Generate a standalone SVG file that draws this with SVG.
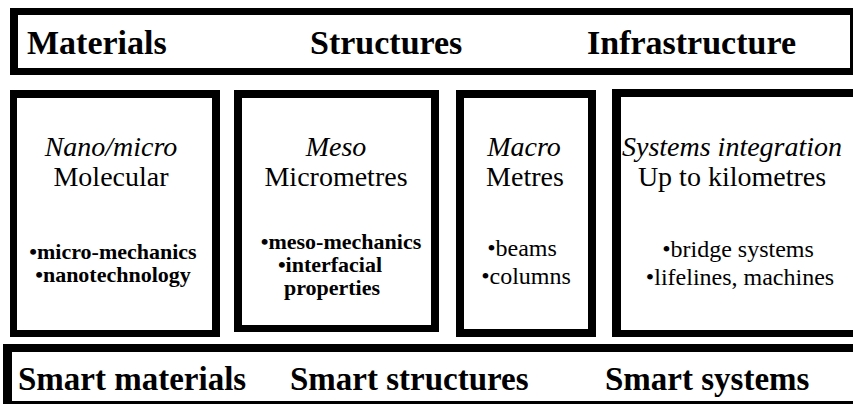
<svg xmlns="http://www.w3.org/2000/svg" width="853" height="404" viewBox="0 0 853 404">
<style>
.frame{fill:#000}
.inner{fill:#fff}
text{font-family:"Liberation Serif","Times New Roman",serif;fill:#000}
.hdr{font-size:34px;font-weight:bold}
.ftr{font-size:33px;font-weight:bold}
.it{font-size:28px;font-style:italic;text-anchor:middle}
.rg{font-size:28px;text-anchor:middle}
.lb{font-size:22px;font-weight:bold;text-anchor:middle}
.lr{font-size:24px;text-anchor:middle}
</style>
<rect width="853" height="404" fill="#fff"/>
<g id="top-bar">
<rect class="frame" x="10" y="8" width="843" height="67"/>
<rect class="inner" x="18" y="15" width="832" height="53"/>
<text class="hdr" x="27" y="54">Materials</text>
<text class="hdr" x="310" y="54">Structures</text>
<text class="hdr" x="587" y="54">Infrastructure</text>
</g>
<g id="box-nano">
<rect class="frame" x="10" y="90" width="210" height="247"/>
<rect class="inner" x="17" y="98" width="195" height="232"/>
<text class="it" x="111" y="156">Nano/micro</text>
<text class="rg" x="111" y="186">Molecular</text>
<text class="lb" x="113" y="259">•micro-mechanics</text>
<text class="lb" x="113" y="282">•nanotechnology</text>
</g>
<g id="box-meso">
<rect class="frame" x="234" y="90" width="205" height="242"/>
<rect class="inner" x="242" y="98" width="189" height="227"/>
<text class="it" x="336" y="156">Meso</text>
<text class="rg" x="336" y="186">Micrometres</text>
<text class="lb" x="341" y="249">•meso-mechanics</text>
<text class="lb" x="330" y="272">•interfacial</text>
<text class="lb" x="332" y="295">properties</text>
</g>
<g id="box-macro">
<rect class="frame" x="456" y="90" width="140" height="247"/>
<rect class="inner" x="464" y="98" width="124" height="231"/>
<text class="it" x="524" y="156">Macro</text>
<text class="rg" x="525" y="186">Metres</text>
<text class="lr" x="522" y="256">•beams</text>
<text class="lr" x="526" y="284">•columns</text>
</g>
<g id="box-systems">
<rect class="frame" x="612" y="89" width="250" height="248"/>
<rect class="inner" x="621" y="97" width="240" height="233"/>
<text class="it" x="732" y="156">Systems integration</text>
<text class="rg" x="732" y="186">Up to kilometres</text>
<text class="lr" x="738" y="257">•bridge systems</text>
<text class="lr" x="740" y="285">•lifelines, machines</text>
</g>
<g id="bottom-bar">
<rect class="frame" x="3" y="344" width="860" height="62"/>
<rect class="inner" x="12" y="352" width="850" height="49"/>
<text class="ftr" x="18" y="390">Smart materials</text>
<text class="ftr" x="290" y="390">Smart structures</text>
<text class="ftr" x="605" y="390">Smart systems</text>
</g>
<g id="connectors"/>
</svg>
